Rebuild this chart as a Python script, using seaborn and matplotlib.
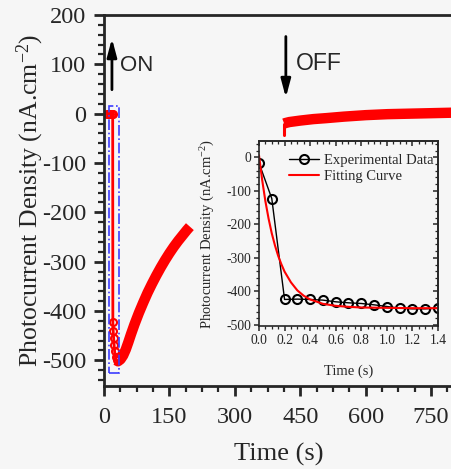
import matplotlib
matplotlib.use("Agg")
import matplotlib.pyplot as plt
from matplotlib.patches import Rectangle
from matplotlib.ticker import MultipleLocator, NullFormatter
import pandas as pd
import seaborn as sns

# ---- photocurrent transient (time in s, density in nA/cm^2) ----
dark_t = [6, 10, 14, 18, 20, 20.4, 21.2, 22.2, 23.2, 24.5, 26.5, 29]
dark_v = [0, 0, 0, 0, 0, -423, -440, -455, -468, -482, -494, -500]

light_t = [29, 32, 38, 44, 50, 56, 62, 70, 80, 90, 100, 110, 120, 130, 140, 150,
           160, 170, 180, 190, 197]
light_v = [-500, -502, -498, -490, -478, -463, -447, -427, -404, -383, -363, -345,
           -328, -312, -297, -283, -270, -258, -247, -236, -229]

off_t = [413, 416, 425, 450, 480, 510, 550, 600, 650, 700, 750, 800]
off_v = [-20, -19, -17, -14, -11, -9, -6, -3, -1, 0, 1, 2]
spike_t = [413, 413]
spike_v = [-20, -44]

# ---- first 1.4 s after illumination ----
exp_t = [0.0, 0.1, 0.2, 0.3, 0.4, 0.5, 0.6, 0.7, 0.8, 0.9, 1.0, 1.1, 1.2, 1.3, 1.4]
exp_v = [-17, -123, -424, -423, -424, -426, -431, -434, -436, -440, -445, -450, -452, -452, -450]

fit_t = [0.0, 0.025, 0.05, 0.075, 0.1, 0.125, 0.15, 0.175, 0.2, 0.25, 0.3, 0.35, 0.4,
         0.5, 0.6, 0.7, 0.8, 1.0, 1.2, 1.4]
fit_v = [6, -68, -131, -183, -227, -263, -294, -319, -341, -373, -397, -413, -424,
         -437, -443, -446, -448, -449, -450, -450]

sns.set_style("ticks")
plt.rcParams["font.family"] = ["Liberation Serif", "DejaVu Serif"]
plt.rcParams["mathtext.default"] = "regular"
plt.rcParams["axes.unicode_minus"] = False

bg = "#f6f6f6"
red = "#ff0000"

fig = plt.figure(figsize=(4.52, 4.69), dpi=100, facecolor=bg)
ax = fig.add_axes([0.230, 0.177, 0.772, 0.791], facecolor=bg)

dark = pd.DataFrame({"t": dark_t, "v": dark_v})
light = pd.DataFrame({"t": light_t, "v": light_v})
off = pd.DataFrame({"t": off_t, "v": off_v})
spike = pd.DataFrame({"t": spike_t, "v": spike_v})

sns.lineplot(data=light, x="t", y="v", ax=ax, color=red, lw=7.5, sort=False,
             estimator=None, solid_capstyle="butt", solid_joinstyle="round")
sns.lineplot(data=off, x="t", y="v", ax=ax, color=red, lw=7.5, sort=False,
             estimator=None, solid_capstyle="butt")
sns.lineplot(data=spike, x="t", y="v", ax=ax, color=red, lw=2.2, sort=False,
             estimator=None)
sns.lineplot(data=dark, x="t", y="v", ax=ax, color=red, lw=2, sort=False,
             estimator=None, marker="o", markersize=5, markerfacecolor="none",
             markeredgecolor=red, markeredgewidth=1.5)

ax.add_patch(Rectangle((12, -526), 23, 542, fill=False, edgecolor="#3c3cff",
                       ls="-.", lw=1.2, zorder=5))

ax.set_xlim(0, 800)
ax.set_ylim(-552, 200)
ax.xaxis.set_major_locator(MultipleLocator(150))
ax.xaxis.set_minor_locator(MultipleLocator(37.5))
ax.yaxis.set_major_locator(MultipleLocator(100))
ax.yaxis.set_minor_locator(MultipleLocator(20))
ax.tick_params(which="major", direction="out", length=7, width=2, labelsize=17.5,
               pad=6, top=False, right=False)
ax.tick_params(which="minor", direction="out", length=4, width=1.6,
               top=False, right=False)
ax.tick_params(axis="x", which="major", pad=8)
for side in ("left", "bottom", "top"):
    ax.spines[side].set_linewidth(2)
ax.spines["right"].set_visible(False)

ax.set_xlabel("Time (s)", fontsize=19, labelpad=11)
ax.set_ylabel("Photocurrent Density (nA.cm$^{-2}$)", fontsize=18.5, labelpad=-3)

# switching markers
head = "-|>,head_length=0.6,head_width=0.16"
ax.annotate("", xy=(18.3, 158), xytext=(18.3, 43),
            arrowprops=dict(arrowstyle=head, color="black", lw=2, mutation_scale=18))
ax.text(36, 98, "ON", fontsize=16, family="Liberation Sans", va="center", ha="left")
ax.annotate("", xy=(417, 27), xytext=(417, 162),
            arrowprops=dict(arrowstyle=head, color="black", lw=2, mutation_scale=18))
ax.text(440, 101, "OFF", fontsize=16.5, family="Liberation Sans", va="center", ha="left")

# ---- inset ----
axi = fig.add_axes([0.573, 0.305, 0.396, 0.394], facecolor=bg)
exp = pd.DataFrame({"t": exp_t, "v": exp_v})
fit = pd.DataFrame({"t": fit_t, "v": fit_v})
sns.lineplot(data=exp, x="t", y="v", ax=axi, color="black", lw=1, sort=False,
             estimator=None, marker="o", markersize=6.5, markerfacecolor="none",
             markeredgecolor="black", markeredgewidth=1.5, label="Experimental Data")
sns.lineplot(data=fit, x="t", y="v", ax=axi, color=red, lw=1.5, sort=False,
             estimator=None, label="Fitting Curve")

axi.set_xlim(0, 1.4)
axi.set_ylim(-503, 48)
axi.xaxis.set_major_locator(MultipleLocator(0.2))
axi.xaxis.set_minor_locator(MultipleLocator(0.05))
axi.yaxis.set_major_locator(MultipleLocator(100))
axi.yaxis.set_minor_locator(MultipleLocator(20))
axi.tick_params(which="major", direction="out", length=3.5, width=1.1, labelsize=9.8, pad=2)
axi.tick_params(which="minor", direction="out", length=2, width=0.9)
for side in axi.spines:
    axi.spines[side].set_linewidth(1.2)

for sec, loc in ((axi.secondary_xaxis("top"), "x"), (axi.secondary_yaxis("right"), "y")):
    axis = sec.xaxis if loc == "x" else sec.yaxis
    axis.set_major_locator(MultipleLocator(0.2 if loc == "x" else 100))
    axis.set_minor_locator(MultipleLocator(0.05 if loc == "x" else 20))
    axis.set_major_formatter(NullFormatter())
    sec.tick_params(which="major", direction="in", length=3.5, width=1.1)
    sec.tick_params(which="minor", direction="in", length=2, width=0.9)
    for s in sec.spines.values():
        s.set_linewidth(1.2)

axi.set_xlabel("Time (s)", fontsize=10.5, labelpad=13)
axi.set_ylabel("Photocurrent Density (nA.cm$^{-2}$)", fontsize=10.5, labelpad=7)
axi.legend(loc="upper right", bbox_to_anchor=(1.01, 0.965), frameon=False,
           fontsize=10.5, handlelength=2.1, handletextpad=0.3, labelspacing=0.15,
           borderaxespad=0.15, borderpad=0.3)

fig.savefig("out.png", dpi=100, facecolor=bg)
